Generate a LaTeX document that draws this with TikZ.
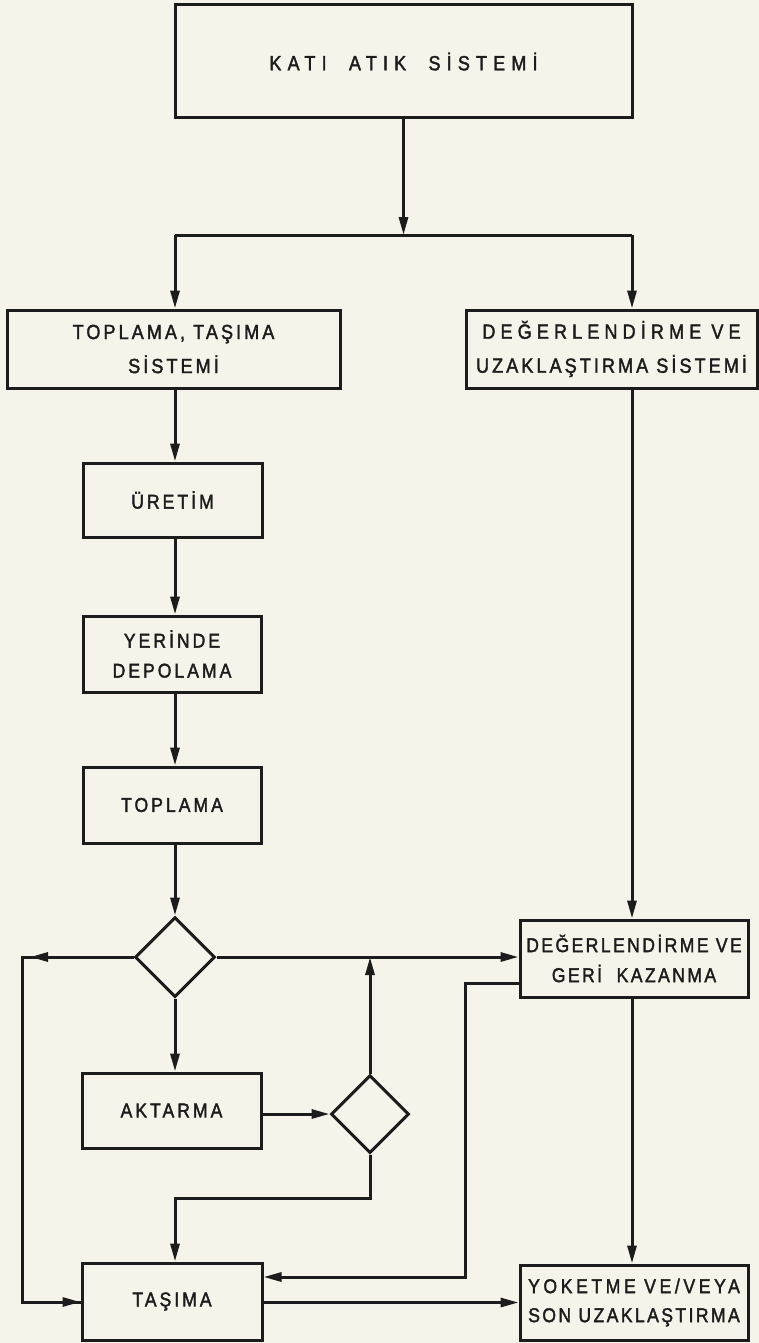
\documentclass[tikz,border=0pt]{standalone}
\usepackage{fontspec}
\setmainfont{Liberation Sans}
\newfontfamily\fA[FakeStretch=0.88,FakeBold=1.8,LetterSpace=15]{Liberation Sans}
\newfontfamily\fB[FakeStretch=0.88,FakeBold=1.8,LetterSpace=25]{Liberation Sans}
\newfontfamily\fC[FakeStretch=0.88,FakeBold=1.8,LetterSpace=12]{Liberation Sans}
\newfontfamily\fD[FakeStretch=0.88,FakeBold=1.8,LetterSpace=18]{Liberation Sans}
\newfontfamily\fK[FakeStretch=0.88,FakeBold=1.8,LetterSpace=30]{Liberation Sans}
\usetikzlibrary{arrows.meta,shapes.geometric}
\definecolor{ink}{RGB}{28,28,28}
\definecolor{paper}{RGB}{246,243,234}
\begin{document}
\begin{tikzpicture}[x=1pt,y=-1pt,
  box/.style={draw=ink,line width=3pt,rectangle,inner sep=0pt,align=center,text=ink},
  katibox/.style={box,font=\fK\fontsize{20.5}{34}\selectfont},
  bigbox/.style={box,font=\fA\fontsize{20.5}{34}\selectfont},
  smallbox/.style={box,font=\fA\fontsize{20}{30}\selectfont},
  dia/.style={draw=ink,line width=3pt,diamond,aspect=1,inner sep=0pt,minimum size=80pt},
  con/.style={draw=ink,line width=3pt},
  arr/.style={con,-{Triangle[length=18pt,width=9pt]}},
]
\fill[paper] (0,0) rectangle (759,1343);
\useasboundingbox (0,0) rectangle (759,1343);

\node[katibox,minimum width=457pt,minimum height=113pt] (kati) at (403.5,61.5) {KATI~~ATIK~~SİSTEMİ};
\node[bigbox,minimum width=333pt,minimum height=78pt] (tts) at (173.5,349) {TOPLAMA, TAŞIMA\\SİSTEMİ};
\node[bigbox,minimum width=291pt,minimum height=78pt] (dus) at (611.5,349) {{\fB\fontsize{20.5}{34}\selectfont DEĞERLENDİRME VE}\\UZAKLAŞTIRMA SİSTEMİ};
\node[smallbox,minimum width=179pt,minimum height=74pt] (uretim) at (172.5,500) {ÜRETİM};
\node[smallbox,minimum width=178pt,minimum height=76pt] (yer) at (172,654) {YERİNDE\\DEPOLAMA};
\node[smallbox,minimum width=178pt,minimum height=76pt] (top) at (172,805) {TOPLAMA};
\node[dia] (d1) at (175,957) {};
\node[smallbox,font=\fC\fontsize{20}{30}\selectfont,minimum width=228pt,minimum height=77pt] (dgk) at (634,958.5) {DEĞERLENDİRME VE\\GERİ~~KAZANMA};
\node[smallbox,minimum width=179pt,minimum height=75pt] (akt) at (171.5,1110.5) {AKTARMA};
\node[dia,minimum size=78pt] (d2) at (370,1114) {};
\node[smallbox,minimum width=180pt,minimum height=77pt] (tas) at (172,1301.5) {TAŞIMA};
\node[smallbox,font=\fC\fontsize{20}{29}\selectfont,minimum width=228pt,minimum height=75pt] (yok) at (634,1302.5) {{\fD\fontsize{20}{29}\selectfont YOKETME VE/VEYA}\\SON UZAKLAŞTIRMA};

\coordinate (j1) at (403.5,235);
\coordinate (j1l) at (175,235);
\coordinate (j1r) at (632,235);
\coordinate (colL) at (175,0);
\coordinate (colR) at (632,0);

\draw[arr] (kati.south) -- (j1);
\draw[con] (j1l) -- (j1r);
\draw[arr] (j1l) -- (j1l |- tts.north);
\draw[arr] (j1r) -- (j1r |- dus.north);
\draw[arr] (tts.south -| colL) -- (uretim.north -| colL);
\draw[arr] (uretim.south -| colL) -- (yer.north -| colL);
\draw[arr] (yer.south -| colL) -- (top.north -| colL);
\draw[arr] (top.south -| colL) -- (d1.north);
\draw[arr] (dus.south -| colR) -- (dgk.north -| colR);

% left loop from diamond 1 to TASIMA
\coordinate (ll1) at (22,957);
\coordinate (ll2) at (22,1302);
\coordinate (llh) at (30,957);
\draw[con] (d1.west) -- (ll1) -- (ll2) -- (tas.west |- ll2);
\draw[arr] (d1.west) -- (llh);
\draw[arr] (ll2) -- (tas.west |- ll2);

% diamond 1 to DGK
\draw[arr] (d1.east) -- (dgk.west |- d1.east);
\draw[arr] (d1.south) -- (akt.north -| colL);
\draw[arr] (akt.east |- d2.west) -- (d2.west);
\coordinate (up) at (370,957);
\draw[arr] (d2.north) -- (up);

% diamond 2 down to TASIMA
\coordinate (dd1) at (370,1198);
\coordinate (dd2) at (175,1198);
\draw[arr] (d2.south) -- (dd1) -- (dd2) -- (dd2 |- tas.north);

% DGK back to TASIMA
\coordinate (bk1) at (520,983);
\coordinate (bk2) at (465,983);
\coordinate (bk3) at (465,1277);
\draw[arr] (dgk.west |- bk1) -- (bk2) -- (bk3) -- (tas.east |- bk3);

\draw[arr] (tas.east |- yok.west) -- (yok.west);
\draw[arr] (dgk.south -| colR) -- (yok.north -| colR);
\end{tikzpicture}
\end{document}
